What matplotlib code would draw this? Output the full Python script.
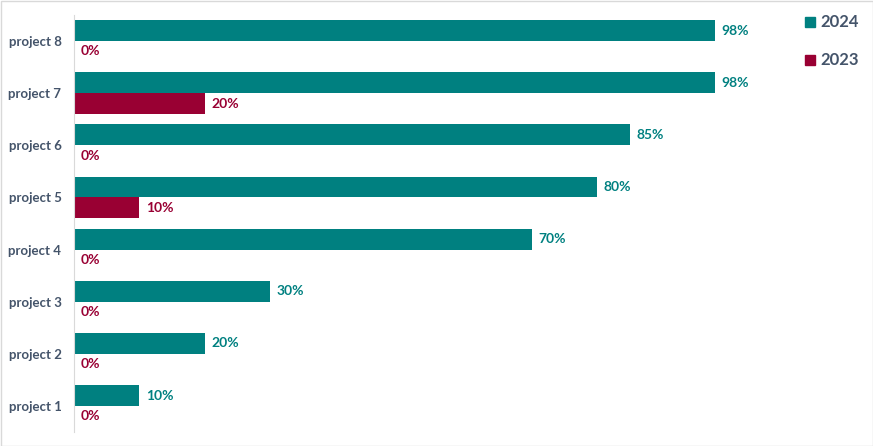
import numpy as np
import matplotlib.pyplot as plt
from matplotlib.patches import Rectangle

# data
projects = ['project 1', 'project 2', 'project 3', 'project 4',
            'project 5', 'project 6', 'project 7', 'project 8']
values_2024 = [0.10, 0.20, 0.30, 0.70, 0.80, 0.85, 0.98, 0.98]
values_2023 = [0.00, 0.00, 0.00, 0.00, 0.10, 0.00, 0.20, 0.00]

teal = '#008080'
wine = '#990033'
label_col = '#44546A'

plt.rcParams['font.family'] = ['Lato', 'DejaVu Sans']

fig = plt.figure(figsize=(8.73, 4.46), dpi=100)
ax = fig.add_axes([74 / 873, 14 / 446, 719 / 873, 417 / 446])

y = np.arange(len(projects))
h = 0.40
ax.barh(y + h / 2, values_2024, height=h, color=teal, label='2024')
ax.barh(y - h / 2, values_2023, height=h, color=wine, label='2023')

for yi, v in zip(y, values_2024):
    ax.text(v + 0.01, yi + h / 2, f'{v:.0%}', va='center', ha='left',
            color=teal, fontsize=10, fontweight='bold')
for yi, v in zip(y, values_2023):
    ax.text(v + 0.01, yi - h / 2, f'{v:.0%}', va='center', ha='left',
            color=wine, fontsize=10, fontweight='bold')

ax.set_xlim(0, 1.1)
ax.set_ylim(-0.5, len(projects) - 0.5)
ax.set_yticks(y)
ax.set_yticklabels(projects, fontsize=9.5, fontweight='bold', color=label_col)
ax.tick_params(axis='y', length=0, pad=9)
ax.set_xticks([])
for s in ['top', 'right', 'bottom']:
    ax.spines[s].set_visible(False)
ax.spines['left'].set_color('#d9d9d9')

# legend drawn in figure coords
for i, (name, col) in enumerate([('2024', teal), ('2023', wine)]):
    ypix = 22 + i * 38
    fig.patches.append(Rectangle((805 / 873, (446 - ypix - 5) / 446), 10 / 873, 10 / 446,
                                 transform=fig.transFigure, color=col))
    fig.text(820 / 873, (446 - ypix) / 446, name, va='center', ha='left',
             fontsize=12, fontweight='bold', color=label_col)

fig.patches.append(Rectangle((0.5 / 873, 0.5 / 446), 872 / 873, 445 / 446,
                             transform=fig.transFigure, fill=False,
                             edgecolor='#d9d9d9', linewidth=1))

fig.savefig('out.png', dpi=100)
